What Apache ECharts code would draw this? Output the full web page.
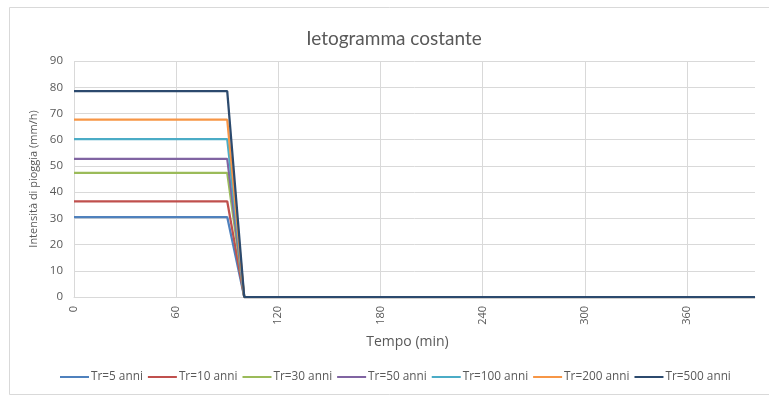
<!DOCTYPE html>
<html>
<head>
<meta charset="utf-8">
<script src="https://cdn.jsdelivr.net/npm/echarts@6/dist/echarts.min.js"></script>
<style>
  html, body { margin: 0; padding: 0; background: #ffffff; }
  #chart { width: 769px; height: 397px; }
</style>
</head>
<body>
<div id="chart"></div>
<script>
// Time steps (minutes), one every 10 min
const times = [0, 10, 20, 30, 40, 50, 60, 70, 80, 90, 100, 110, 120, 130, 140, 150, 160, 170, 180, 190, 200,
  210, 220, 230, 240, 250, 260, 270, 280, 290, 300, 310, 320, 330, 340, 350, 360, 370, 380, 390, 400];

// Rain intensity (mm/h) for each return period: constant over the first 90 min, then zero
const tr5   = [30.5, 30.5, 30.5, 30.5, 30.5, 30.5, 30.5, 30.5, 30.5, 30.5, 0, 0, 0, 0, 0, 0, 0, 0, 0, 0, 0, 0, 0, 0, 0, 0, 0, 0, 0, 0, 0, 0, 0, 0, 0, 0, 0, 0, 0, 0, 0];
const tr10  = [36.5, 36.5, 36.5, 36.5, 36.5, 36.5, 36.5, 36.5, 36.5, 36.5, 0, 0, 0, 0, 0, 0, 0, 0, 0, 0, 0, 0, 0, 0, 0, 0, 0, 0, 0, 0, 0, 0, 0, 0, 0, 0, 0, 0, 0, 0, 0];
const tr30  = [47.3, 47.3, 47.3, 47.3, 47.3, 47.3, 47.3, 47.3, 47.3, 47.3, 0, 0, 0, 0, 0, 0, 0, 0, 0, 0, 0, 0, 0, 0, 0, 0, 0, 0, 0, 0, 0, 0, 0, 0, 0, 0, 0, 0, 0, 0, 0];
const tr50  = [52.7, 52.7, 52.7, 52.7, 52.7, 52.7, 52.7, 52.7, 52.7, 52.7, 0, 0, 0, 0, 0, 0, 0, 0, 0, 0, 0, 0, 0, 0, 0, 0, 0, 0, 0, 0, 0, 0, 0, 0, 0, 0, 0, 0, 0, 0, 0];
const tr100 = [60.2, 60.2, 60.2, 60.2, 60.2, 60.2, 60.2, 60.2, 60.2, 60.2, 0, 0, 0, 0, 0, 0, 0, 0, 0, 0, 0, 0, 0, 0, 0, 0, 0, 0, 0, 0, 0, 0, 0, 0, 0, 0, 0, 0, 0, 0, 0];
const tr200 = [67.6, 67.6, 67.6, 67.6, 67.6, 67.6, 67.6, 67.6, 67.6, 67.6, 0, 0, 0, 0, 0, 0, 0, 0, 0, 0, 0, 0, 0, 0, 0, 0, 0, 0, 0, 0, 0, 0, 0, 0, 0, 0, 0, 0, 0, 0, 0];
const tr500 = [78.5, 78.5, 78.5, 78.5, 78.5, 78.5, 78.5, 78.5, 78.5, 78.5, 0, 0, 0, 0, 0, 0, 0, 0, 0, 0, 0, 0, 0, 0, 0, 0, 0, 0, 0, 0, 0, 0, 0, 0, 0, 0, 0, 0, 0, 0, 0];

const seriesNames = ['Tr=5 anni', 'Tr=10 anni', 'Tr=30 anni', 'Tr=50 anni', 'Tr=100 anni', 'Tr=200 anni', 'Tr=500 anni'];
const seriesValues = [tr5, tr10, tr30, tr50, tr100, tr200, tr500];
const seriesColors = ['#4F81BD', '#C0504D', '#9BBB59', '#8064A2', '#4BACC6', '#F79646', '#2C4A6E'];

const yTicks = { min: 0, max: 90, step: 10 };

const FONT = 'Lato, "Open Sans", sans-serif';
const WIDE = '"Open Sans", Lato, sans-serif';
const TEXT = '#595959';
const GRID = '#d9d9d9';

const chart = echarts.init(document.getElementById('chart'), null, { renderer: 'canvas' });

chart.setOption({
  backgroundColor: '#ffffff',
  animation: false,
  textStyle: { fontFamily: FONT },
  graphic: [{
    type: 'rect',
    shape: { x: 9.5, y: 7.5, width: 800, height: 387 },
    style: { fill: null, stroke: GRID, lineWidth: 1 },
    silent: true,
    z: -10
  }, {
    // vertical axis title, centred on the plot height
    type: 'text',
    x: 34,
    y: 179,
    rotation: Math.PI / 2,
    style: {
      text: 'Intensità di pioggia (mm/h)',
      fontFamily: WIDE,
      fontSize: 11,
      fill: TEXT,
      align: 'center',
      verticalAlign: 'middle'
    },
    silent: true
  }],
  title: {
    text: 'Ietogramma costante',
    left: 389,
    top: 24,
    textAlign: 'center',
    textStyle: { fontFamily: FONT, fontSize: 19, fontWeight: 'normal', color: TEXT }
  },
  legend: {
    data: seriesNames,
    top: 366,
    left: 55,
    icon: 'rect',
    itemWidth: 29,
    itemHeight: 2,
    itemGap: 5,
    textStyle: { fontFamily: WIDE, fontSize: 11.8, color: TEXT, padding: [0, 0, 0, -3] }
  },
  grid: { left: 74, right: 14, top: 61, bottom: 100, containLabel: false },
  xAxis: {
    type: 'category',
    data: times,
    boundaryGap: false,
    name: 'Tempo (min)',
    nameLocation: 'middle',
    nameGap: 38,
    nameTextStyle: { fontFamily: WIDE, fontSize: 14, color: TEXT, padding: [0, 14, 0, 0] },
    axisLine: { show: true, lineStyle: { color: GRID } },
    axisTick: { show: false },
    axisLabel: { interval: 5, rotate: 90, margin: 9, color: TEXT, fontSize: 11, fontFamily: WIDE },
    splitLine: { show: true, interval: 5, lineStyle: { color: GRID, width: 1 } }
  },
  yAxis: {
    type: 'value',
    min: yTicks.min,
    max: yTicks.max,
    interval: yTicks.step,
    axisLine: { show: false },
    axisTick: { show: false },
    axisLabel: { margin: 11, color: TEXT, fontSize: 11.5, fontFamily: WIDE },
    splitLine: { show: true, lineStyle: { color: GRID, width: 1 } }
  },
  series: seriesNames.map((name, i) => ({
    name: name,
    type: 'line',
    data: seriesValues[i],
    symbol: 'none',
    showSymbol: false,
    itemStyle: { color: seriesColors[i] },
    lineStyle: { color: seriesColors[i], width: 2.25 },
    z: 2 + i
  }))
});
</script>
</body>
</html>
